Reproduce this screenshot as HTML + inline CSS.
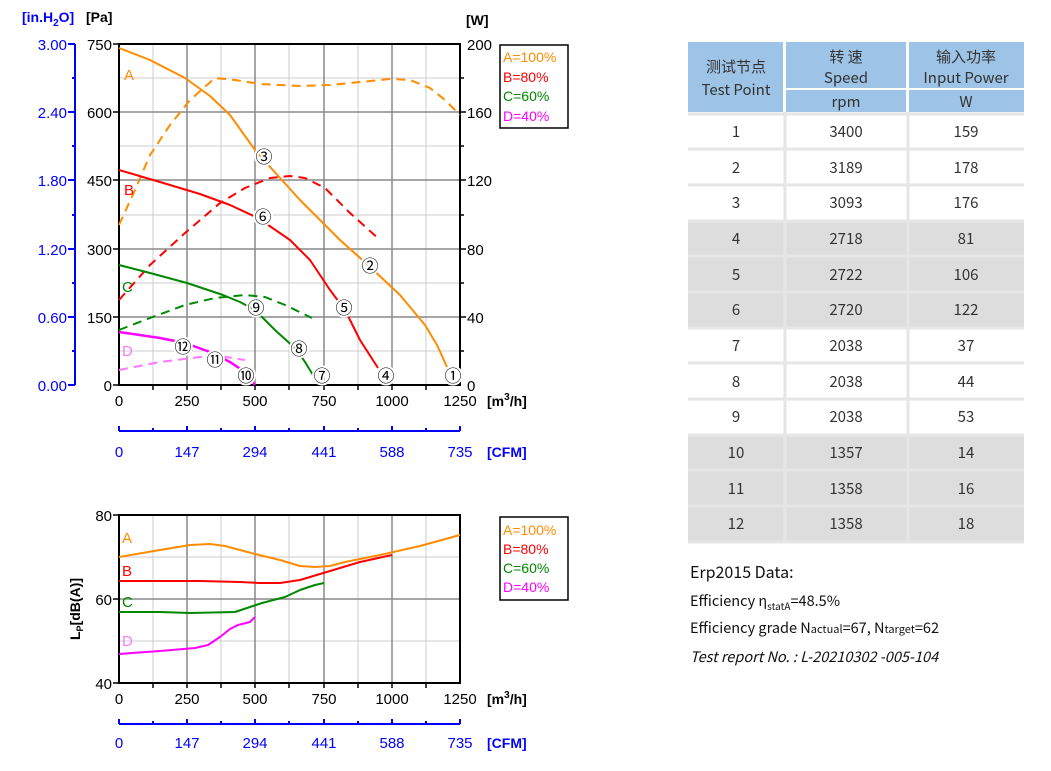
<!DOCTYPE html>
<html><head><meta charset="utf-8"><style>
body{margin:0;background:#fff;width:1051px;height:766px;overflow:hidden;font-family:"Liberation Sans",sans-serif}
svg text{font-family:"Liberation Sans","Noto Sans CJK SC",sans-serif}
svg .cjk text, svg text.cjk{font-family:"Noto Sans CJK SC","Liberation Sans",sans-serif}
</style></head><body>
<svg width="1051" height="766" viewBox="0 0 1051 766" xmlns="http://www.w3.org/2000/svg">
<g stroke="#ccc" stroke-width="1">
<line x1="153" y1="44" x2="153" y2="385"/><line x1="221" y1="44" x2="221" y2="385"/><line x1="289" y1="44" x2="289" y2="385"/><line x1="358" y1="44" x2="358" y2="385"/><line x1="426" y1="44" x2="426" y2="385"/>
<line x1="119" y1="78" x2="460" y2="78"/><line x1="119" y1="146" x2="460" y2="146"/><line x1="119" y1="215" x2="460" y2="215"/><line x1="119" y1="283" x2="460" y2="283"/><line x1="119" y1="351" x2="460" y2="351"/>
</g>
<g stroke="#888" stroke-width="1.5">
<line x1="187" y1="44" x2="187" y2="385"/><line x1="255" y1="44" x2="255" y2="385"/><line x1="324" y1="44" x2="324" y2="385"/><line x1="392" y1="44" x2="392" y2="385"/>
<line x1="119" y1="112" x2="460" y2="112"/><line x1="119" y1="180" x2="460" y2="180"/><line x1="119" y1="249" x2="460" y2="249"/><line x1="119" y1="317" x2="460" y2="317"/>
</g>
<rect x="119" y="44" width="341" height="341" fill="none" stroke="#000" stroke-width="2"/>
<g stroke="#000" stroke-width="1.5">
<line x1="113" y1="44" x2="119" y2="44"/><line x1="113" y1="112" x2="119" y2="112"/><line x1="113" y1="180" x2="119" y2="180"/><line x1="113" y1="249" x2="119" y2="249"/><line x1="113" y1="317" x2="119" y2="317"/><line x1="113" y1="385" x2="119" y2="385"/>
<line x1="460" y1="112" x2="466" y2="112"/><line x1="460" y1="180" x2="466" y2="180"/><line x1="460" y1="249" x2="466" y2="249"/><line x1="460" y1="317" x2="466" y2="317"/>
<line x1="460" y1="78" x2="464" y2="78"/><line x1="460" y1="146" x2="464" y2="146"/><line x1="460" y1="215" x2="464" y2="215"/><line x1="460" y1="283" x2="464" y2="283"/><line x1="460" y1="351" x2="464" y2="351"/>
<line x1="153" y1="385" x2="153" y2="390"/><line x1="187" y1="385" x2="187" y2="390"/><line x1="221" y1="385" x2="221" y2="390"/><line x1="255" y1="385" x2="255" y2="390"/><line x1="289" y1="385" x2="289" y2="390"/><line x1="324" y1="385" x2="324" y2="390"/><line x1="358" y1="385" x2="358" y2="390"/><line x1="392" y1="385" x2="392" y2="390"/><line x1="426" y1="385" x2="426" y2="390"/>
</g>
<g stroke="#00f" stroke-width="2">
<line x1="75" y1="44" x2="75" y2="385"/>
<line x1="68" y1="44" x2="75" y2="44"/><line x1="68" y1="112" x2="75" y2="112"/><line x1="68" y1="180" x2="75" y2="180"/><line x1="68" y1="249" x2="75" y2="249"/><line x1="68" y1="317" x2="75" y2="317"/><line x1="68" y1="385" x2="75" y2="385"/>
<line x1="72" y1="78" x2="75" y2="78"/><line x1="72" y1="146" x2="75" y2="146"/><line x1="72" y1="215" x2="75" y2="215"/><line x1="72" y1="283" x2="75" y2="283"/><line x1="72" y1="351" x2="75" y2="351"/>
</g>
<g fill="#00f" font-size="15" text-anchor="end">
<text x="67" y="50">3.00</text><text x="67" y="118">2.40</text><text x="67" y="186">1.80</text><text x="67" y="255">1.20</text><text x="67" y="323">0.60</text><text x="67" y="391">0.00</text>
</g>
<text x="22" y="22" fill="#00f" font-size="14" font-weight="bold">[in.H<tspan font-size="10" dy="4">2</tspan><tspan dy="-4">O]</tspan></text>
<text x="86" y="22" fill="#000" font-size="14" font-weight="bold">[Pa]</text>
<text x="466" y="25" fill="#000" font-size="14" font-weight="bold">[W]</text>
<g fill="#000" font-size="15" text-anchor="end">
<text x="112" y="50">750</text><text x="112" y="118">600</text><text x="112" y="186">450</text><text x="112" y="255">300</text><text x="112" y="323">150</text><text x="112" y="391">0</text>
</g>
<g fill="#000" font-size="15">
<text x="467" y="50">200</text><text x="467" y="118">160</text><text x="467" y="186">120</text><text x="467" y="255">80</text><text x="467" y="323">40</text><text x="467" y="391">0</text>
</g>
<g fill="#000" font-size="15" text-anchor="middle">
<text x="119" y="406">0</text><text x="187" y="406">250</text><text x="255" y="406">500</text><text x="324" y="406">750</text><text x="392" y="406">1000</text><text x="460" y="406">1250</text>
</g>
<text x="487" y="406" font-size="14" font-weight="bold">[m<tspan font-size="10" dy="-6">3</tspan><tspan dy="6">/h]</tspan></text>
<g stroke="#00f" stroke-width="2"><line x1="119" y1="431" x2="460" y2="431"/>
<line x1="119" y1="426" x2="119" y2="431"/><line x1="187" y1="426" x2="187" y2="431"/><line x1="255" y1="426" x2="255" y2="431"/><line x1="324" y1="426" x2="324" y2="431"/><line x1="392" y1="426" x2="392" y2="431"/><line x1="460" y1="426" x2="460" y2="431"/>
<line x1="153" y1="428" x2="153" y2="431"/><line x1="221" y1="428" x2="221" y2="431"/><line x1="289" y1="428" x2="289" y2="431"/><line x1="358" y1="428" x2="358" y2="431"/><line x1="426" y1="428" x2="426" y2="431"/></g>
<g fill="#00f" font-size="15" text-anchor="middle">
<text x="119" y="457">0</text><text x="187" y="457">147</text><text x="255" y="457">294</text><text x="324" y="457">441</text><text x="392" y="457">588</text><text x="460" y="457">735</text>
</g>
<text x="487" y="457" fill="#00f" font-size="14" font-weight="bold">[CFM]</text>
<g fill="none" stroke-width="2" stroke-linejoin="round">
<polyline stroke="#ff8c00" points="119,48 150,60 185,78 210,96 230,115 255,150 262,158 300,200 340,240 368,265 400,295 425,325 437,345 447,367"/>
<polyline stroke="#ff8c00" stroke-dasharray="9,6" points="119,225 135,190 150,155 170,125 190,100 215,78 235,80 260,84 300,86 330,85 360,82 390,79 410,80 430,88 445,100 460,115"/>
<polyline stroke="#f00" points="119,170 160,182 200,194 230,205 258,218 290,240 310,260 330,290 345,310 360,340 378,368"/>
<polyline stroke="#f00" stroke-dasharray="9,6" points="119,300 150,265 185,233 220,203 245,188 270,178 290,176 305,178 325,188 350,213 380,240"/>
<polyline stroke="#080" points="119,265 150,273 187,283 223,295 240,302 255,310 275,330 297,350 305,362 313,375"/>
<polyline stroke="#080" stroke-dasharray="9,6" points="119,330 150,318 185,305 215,298 245,295 265,297 285,305 312,318"/>
<polyline stroke="#f0f" stroke-width="2.5" points="119,332 160,338 185,343 210,352 230,362 245,372 255,385"/>
<polyline stroke="#f7f" stroke-dasharray="9,6" points="119,370 160,362 200,357 220,356 245,360"/>
</g>
<g font-size="15"><text x="124" y="80" fill="#ff8c00">A</text><text x="124" y="195" fill="#f00">B</text><text x="122" y="292" fill="#080">C</text><text x="122" y="356" fill="#f7f">D</text></g>
<g font-size="17" text-anchor="middle" fill="#000" stroke="#fff" stroke-width="4" paint-order="stroke">
<text x="453" y="382">①</text><text x="370" y="272">②</text><text x="264" y="163">③</text><text x="386" y="382">④</text><text x="344" y="314">⑤</text><text x="263" y="223">⑥</text><text x="322" y="382">⑦</text><text x="299" y="355">⑧</text><text x="256" y="314">⑨</text><text x="246" y="382">⑩</text><text x="215" y="366">⑪</text><text x="183" y="353">⑫</text>
</g>
<rect x="500" y="45" width="68" height="83" fill="#fff" stroke="#000" stroke-width="1.5"/>
<g font-size="14"><text x="503" y="62" fill="#ff8c00">A=100%</text><text x="503" y="82" fill="#f00">B=80%</text><text x="503" y="101" fill="#080">C=60%</text><text x="503" y="121" fill="#f0f">D=40%</text></g>

<g stroke="#ccc" stroke-width="1">
<line x1="153" y1="515" x2="153" y2="683"/><line x1="221" y1="515" x2="221" y2="683"/><line x1="289" y1="515" x2="289" y2="683"/><line x1="358" y1="515" x2="358" y2="683"/><line x1="426" y1="515" x2="426" y2="683"/>
<line x1="119" y1="557" x2="460" y2="557"/><line x1="119" y1="641" x2="460" y2="641"/>
</g>
<g stroke="#888" stroke-width="1.5">
<line x1="187" y1="515" x2="187" y2="683"/><line x1="255" y1="515" x2="255" y2="683"/><line x1="324" y1="515" x2="324" y2="683"/><line x1="392" y1="515" x2="392" y2="683"/>
<line x1="119" y1="599" x2="460" y2="599"/>
</g>
<rect x="119" y="515" width="341" height="168" fill="none" stroke="#000" stroke-width="2"/>
<g stroke="#000" stroke-width="1.5">
<line x1="113" y1="515" x2="119" y2="515"/><line x1="113" y1="599" x2="119" y2="599"/><line x1="113" y1="683" x2="119" y2="683"/>
<line x1="153" y1="683" x2="153" y2="688"/><line x1="187" y1="683" x2="187" y2="688"/><line x1="221" y1="683" x2="221" y2="688"/><line x1="255" y1="683" x2="255" y2="688"/><line x1="289" y1="683" x2="289" y2="688"/><line x1="324" y1="683" x2="324" y2="688"/><line x1="358" y1="683" x2="358" y2="688"/><line x1="392" y1="683" x2="392" y2="688"/><line x1="426" y1="683" x2="426" y2="688"/>
</g>
<g fill="#000" font-size="15" text-anchor="end"><text x="112" y="521">80</text><text x="112" y="605">60</text><text x="112" y="689">40</text></g>
<text transform="translate(80,640) rotate(-90)" font-size="14" font-weight="bold">L<tspan font-size="9" dy="3">P</tspan><tspan dy="-3">[dB(A)]</tspan></text>
<g fill="#000" font-size="15" text-anchor="middle">
<text x="119" y="704">0</text><text x="187" y="704">250</text><text x="255" y="704">500</text><text x="324" y="704">750</text><text x="392" y="704">1000</text><text x="460" y="704">1250</text>
</g>
<text x="487" y="704" font-size="14" font-weight="bold">[m<tspan font-size="10" dy="-6">3</tspan><tspan dy="6">/h]</tspan></text>
<g stroke="#00f" stroke-width="2"><line x1="119" y1="724" x2="460" y2="724"/>
<line x1="119" y1="719" x2="119" y2="724"/><line x1="187" y1="719" x2="187" y2="724"/><line x1="255" y1="719" x2="255" y2="724"/><line x1="324" y1="719" x2="324" y2="724"/><line x1="392" y1="719" x2="392" y2="724"/><line x1="460" y1="719" x2="460" y2="724"/>
<line x1="153" y1="721" x2="153" y2="724"/><line x1="221" y1="721" x2="221" y2="724"/><line x1="289" y1="721" x2="289" y2="724"/><line x1="358" y1="721" x2="358" y2="724"/><line x1="426" y1="721" x2="426" y2="724"/></g>
<g fill="#00f" font-size="15" text-anchor="middle">
<text x="119" y="748">0</text><text x="187" y="748">147</text><text x="255" y="748">294</text><text x="324" y="748">441</text><text x="392" y="748">588</text><text x="460" y="748">735</text>
</g>
<text x="487" y="748" fill="#00f" font-size="14" font-weight="bold">[CFM]</text>
<g fill="none" stroke-width="2" stroke-linejoin="round">
<polyline stroke="#ff8c00" points="119,557 160,550 190,545 210,544 225,546 240,550 255,554 280,560 300,566 315,567 330,566 345,562 380,555 420,546 460,535"/>
<polyline stroke="#f00" points="119,581 200,581 240,582 260,583 280,583 300,580 320,574 360,562 392,555"/>
<polyline stroke="#080" points="119,612 160,612 190,613 235,612 250,607 262,603 285,597 300,590 315,585 324,583"/>
<polyline stroke="#f0f" points="119,654 160,651 195,648 208,645 220,637 230,629 238,625 250,622 255,617"/>
</g>
<g font-size="15"><text x="122" y="543" fill="#ff8c00">A</text><text x="122" y="576" fill="#f00">B</text><text x="122" y="607" fill="#080">C</text><text x="122" y="646" fill="#f7f">D</text></g>
<rect x="500" y="517" width="68" height="83" fill="#fff" stroke="#000" stroke-width="1.5"/>
<g font-size="14"><text x="503" y="535" fill="#ff8c00">A=100%</text><text x="503" y="554" fill="#f00">B=80%</text><text x="503" y="573" fill="#080">C=60%</text><text x="503" y="592" fill="#f0f">D=40%</text></g>

<g fill="#9dc3e6">
<rect x="688" y="42" width="95" height="70"/><rect x="786" y="42" width="120" height="46"/><rect x="786" y="90" width="120" height="22"/><rect x="909" y="42" width="115" height="46"/><rect x="909" y="90" width="115" height="22"/>
</g>
<g fill="#ddd">
<rect x="688" y="221" width="336" height="107"/><rect x="688" y="435" width="336" height="107"/>
</g>
<g stroke="#e6e6e6" stroke-width="3">
<line x1="785" y1="112" x2="785" y2="542"/><line x1="908" y1="112" x2="908" y2="542"/>
<line x1="688" y1="114" x2="1024" y2="114"/><line x1="688" y1="149" x2="1024" y2="149"/><line x1="688" y1="185" x2="1024" y2="185"/><line x1="688" y1="221" x2="1024" y2="221"/><line x1="688" y1="256" x2="1024" y2="256"/><line x1="688" y1="292" x2="1024" y2="292"/><line x1="688" y1="328" x2="1024" y2="328"/><line x1="688" y1="363" x2="1024" y2="363"/><line x1="688" y1="399" x2="1024" y2="399"/><line x1="688" y1="435" x2="1024" y2="435"/><line x1="688" y1="470" x2="1024" y2="470"/><line x1="688" y1="506" x2="1024" y2="506"/><line x1="688" y1="542" x2="1024" y2="542"/>
</g>
<g class="cjk" font-size="15" fill="#333" text-anchor="middle">
<text x="736" y="72">测试节点</text><text x="736" y="95">Test Point</text>
<text x="846" y="62">转 速</text><text x="846" y="83">Speed</text><text x="846" y="107">rpm</text>
<text x="966" y="62">输入功率</text><text x="966" y="83">Input Power</text><text x="966" y="107">W</text>
</g>
<g class="cjk" font-size="15" fill="#333" text-anchor="middle">
<text x="736" y="137">1</text><text x="846" y="137">3400</text><text x="966" y="137">159</text>
<text x="736" y="173">2</text><text x="846" y="173">3189</text><text x="966" y="173">178</text>
<text x="736" y="208">3</text><text x="846" y="208">3093</text><text x="966" y="208">176</text>
<text x="736" y="244">4</text><text x="846" y="244">2718</text><text x="966" y="244">81</text>
<text x="736" y="280">5</text><text x="846" y="280">2722</text><text x="966" y="280">106</text>
<text x="736" y="315">6</text><text x="846" y="315">2720</text><text x="966" y="315">122</text>
<text x="736" y="351">7</text><text x="846" y="351">2038</text><text x="966" y="351">37</text>
<text x="736" y="387">8</text><text x="846" y="387">2038</text><text x="966" y="387">44</text>
<text x="736" y="422">9</text><text x="846" y="422">2038</text><text x="966" y="422">53</text>
<text x="736" y="458">10</text><text x="846" y="458">1357</text><text x="966" y="458">14</text>
<text x="736" y="494">11</text><text x="846" y="494">1358</text><text x="966" y="494">16</text>
<text x="736" y="529">12</text><text x="846" y="529">1358</text><text x="966" y="529">18</text>
</g>
<g class="cjk" fill="#111">
<text x="690" y="578" font-size="16">Erp2015  Data:</text>
<text x="690" y="606" font-size="14.5">Efficiency η<tspan font-size="10" dy="4">statA</tspan><tspan dy="-4">=48.5%</tspan></text>
<text x="690" y="633" font-size="14.5">Efficiency grade  N<tspan font-size="11">actual</tspan>=67, N<tspan font-size="11">target</tspan>=62</text>
<text x="690" y="662" font-size="14.5" font-style="italic">Test report No. : L-20210302 -005-104</text>
</g>
</svg>
</body></html>
